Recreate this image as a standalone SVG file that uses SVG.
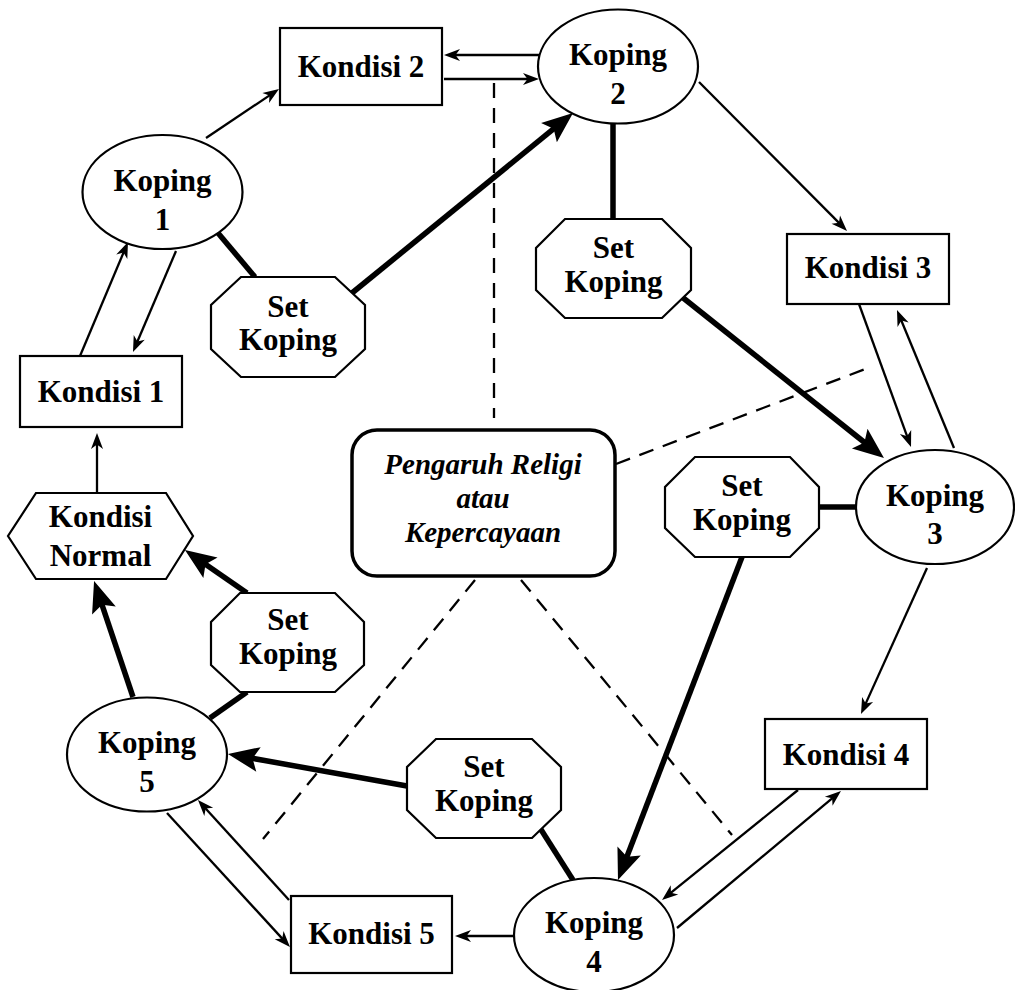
<svg xmlns="http://www.w3.org/2000/svg" width="1015" height="990" viewBox="0 0 1015 990">
<style>
.n{fill:#fff;stroke:#000;stroke-width:2.2}
.t{font-family:"Liberation Serif","Times New Roman",serif;font-weight:bold;font-size:31px;text-anchor:middle;fill:#000}
.ti{font-family:"Liberation Serif","Times New Roman",serif;font-weight:bold;font-style:italic;font-size:29px;text-anchor:middle;fill:#000}
.a{stroke:#000;stroke-width:2.3;fill:none;marker-end:url(#ah)}
.k{stroke:#000;stroke-width:5.5;fill:none}
.ka{stroke:#000;stroke-width:5.5;fill:none;marker-end:url(#bh)}
.d{stroke:#000;stroke-width:2.3;fill:none;stroke-dasharray:15 10}
</style>
<defs>
<marker id="ah" markerUnits="userSpaceOnUse" viewBox="-17 -7 18 14" markerWidth="18" markerHeight="14" refX="-10" refY="0" orient="auto" overflow="visible">
<path d="M0,0 L-16,-6 L-11.5,0 L-16,6 Z" fill="#000"/>
</marker>
<marker id="bh" markerUnits="userSpaceOnUse" viewBox="-32 -14 33 28" markerWidth="33" markerHeight="28" refX="-24" refY="0" orient="auto" overflow="visible">
<path d="M0,0 L-31,-12.5 L-25,0 L-31,12.5 Z" fill="#000"/>
</marker>
</defs>
<rect width="1015" height="990" fill="#fff"/>
<g id="connectors">
<line class="d" x1="494" y1="83" x2="494" y2="418"/>
<line class="d" x1="616" y1="464" x2="868" y2="368"/>
<line class="d" x1="521" y1="580" x2="732" y2="835"/>
<line class="d" x1="475" y1="580" x2="263" y2="839"/>
<line class="a" x1="206" y1="138" x2="270.7" y2="94.6"/>
<line class="a" x1="540" y1="55" x2="454" y2="55"/>
<line class="a" x1="444" y1="79" x2="529" y2="79"/>
<line class="a" x1="699" y1="82" x2="840" y2="223.9"/>
<line class="a" x1="859" y1="304" x2="907.6" y2="437.6"/>
<line class="a" x1="954" y1="448" x2="900.8" y2="319.2"/>
<line class="a" x1="927" y1="568" x2="865.1" y2="704.9"/>
<line class="a" x1="798" y1="790" x2="669.8" y2="893.7"/>
<line class="a" x1="677" y1="928" x2="833.3" y2="797.4"/>
<line class="a" x1="514" y1="936" x2="465" y2="936"/>
<line class="a" x1="167" y1="813" x2="283.2" y2="939.6"/>
<line class="a" x1="289" y1="900" x2="204.7" y2="807.4"/>
<line class="a" x1="97" y1="493" x2="97" y2="443"/>
<line class="a" x1="80" y1="356" x2="124.1" y2="251.2"/>
<line class="a" x1="176" y1="251" x2="136.9" y2="342.8"/>
<line class="k" x1="218" y1="233" x2="255" y2="277"/>
<line class="k" x1="613" y1="124" x2="613" y2="219"/>
<line class="k" x1="819" y1="507" x2="856" y2="507"/>
<line class="k" x1="540" y1="828" x2="573" y2="880"/>
<line class="k" x1="210" y1="718" x2="247" y2="692"/>
<line class="ka" x1="352" y1="293" x2="554.4" y2="128.2"/>
<line class="ka" x1="682" y1="297" x2="865.2" y2="443"/>
<line class="ka" x1="742" y1="557" x2="626.6" y2="857.6"/>
<line class="ka" x1="407" y1="786" x2="251.6" y2="758.2"/>
<line class="ka" x1="247" y1="593" x2="204.7" y2="563.7"/>
<line class="ka" x1="133" y1="697" x2="101.7" y2="603.8"/>
</g>
<g id="kondisi2"><rect class="n" x="280" y="28" width="162" height="77"/><text class="t" x="361" y="77">Kondisi 2</text></g>
<g id="kondisi3"><rect class="n" x="787" y="234" width="162" height="70"/><text class="t" x="868" y="278">Kondisi 3</text></g>
<g id="kondisi1"><rect class="n" x="20" y="356" width="162" height="71"/><text class="t" x="101" y="402">Kondisi 1</text></g>
<g id="kondisi4"><rect class="n" x="765" y="719" width="162" height="70"/><text class="t" x="846" y="765">Kondisi 4</text></g>
<g id="kondisi5"><rect class="n" x="291" y="896" width="161" height="77"/><text class="t" x="371.5" y="944">Kondisi 5</text></g>
<g id="koping1"><ellipse class="n" cx="162.5" cy="192" rx="80" ry="57"/><text class="t" x="162.5" y="191">Koping</text><text class="t" x="162.5" y="230">1</text></g>
<g id="koping2"><ellipse class="n" cx="618" cy="66.5" rx="80" ry="57"/><text class="t" x="618" y="65">Koping</text><text class="t" x="618" y="104">2</text></g>
<g id="koping3"><ellipse class="n" cx="935" cy="507" rx="79" ry="57"/><text class="t" x="935" y="506">Koping</text><text class="t" x="935" y="544">3</text></g>
<g id="koping4"><ellipse class="n" cx="594" cy="935" rx="80" ry="57"/><text class="t" x="594" y="933">Koping</text><text class="t" x="594" y="972">4</text></g>
<g id="koping5"><ellipse class="n" cx="147" cy="754.5" rx="80" ry="57"/><text class="t" x="147" y="753">Koping</text><text class="t" x="147" y="792">5</text></g>
<g id="set1"><polygon class="n" points="241,277 335,277 365,305 365,349 335,377 241,377 211,349 211,305"/><text class="t" x="288" y="317">Set</text><text class="t" x="288" y="350">Koping</text></g>
<g id="set2"><polygon class="n" points="565,219 662,219 691,248 691,290 662,318 565,318 536,290 536,248"/><text class="t" x="613.5" y="258">Set</text><text class="t" x="613.5" y="292">Koping</text></g>
<g id="set3"><polygon class="n" points="695,457 790,457 819,487 819,528 790,557 695,557 665,528 665,487"/><text class="t" x="742" y="496">Set</text><text class="t" x="742" y="530">Koping</text></g>
<g id="set4"><polygon class="n" points="436,739 532,739 561,767 561,810 532,838 436,838 407,810 407,767"/><text class="t" x="484" y="777">Set</text><text class="t" x="484" y="811">Koping</text></g>
<g id="set5"><polygon class="n" points="240,593 335,593 364,622 364,665 335,692 240,692 211,665 211,622"/><text class="t" x="288" y="630">Set</text><text class="t" x="288" y="664">Koping</text></g>
<g id="normal"><polygon class="n" points="36,493 166,493 193,536 166,579 36,579 8,536"/><text class="t" x="100.5" y="527">Kondisi</text><text class="t" x="100.5" y="566">Normal</text></g>
<g id="religi"><rect x="352" y="430" width="263" height="146" rx="25" fill="#fff" stroke="#000" stroke-width="3.5"/><text class="ti" x="483" y="474">Pengaruh Religi</text><text class="ti" x="483" y="508">atau</text><text class="ti" x="483" y="542">Kepercayaan</text></g>
</svg>
